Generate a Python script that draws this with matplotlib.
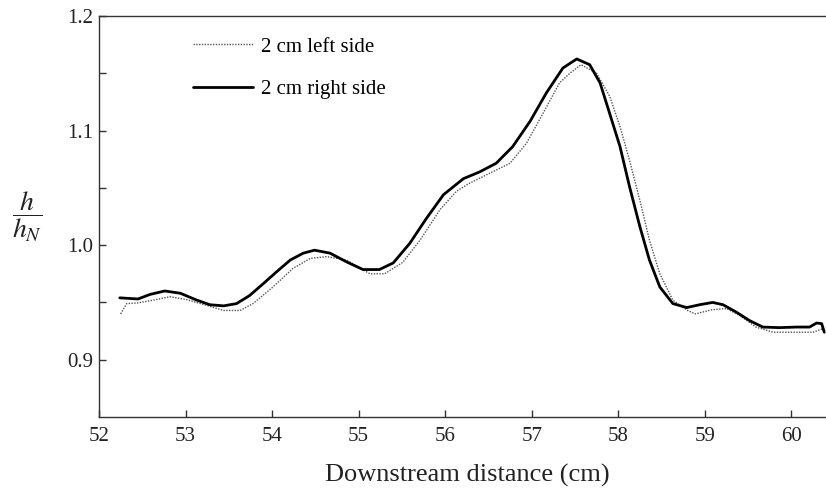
import matplotlib
matplotlib.use("Agg")
import matplotlib.pyplot as plt

# Data
right_x = [52.24, 52.45, 52.59, 52.76, 52.94, 53.13, 53.28, 53.44, 53.59, 53.74, 53.90,
           54.05, 54.21, 54.36, 54.49, 54.67, 54.86, 55.05, 55.24, 55.40, 55.59, 55.78,
           55.98, 56.21, 56.40, 56.59, 56.78, 56.98, 57.17, 57.36, 57.52, 57.67, 57.79,
           57.90, 58.02, 58.13, 58.25, 58.36, 58.48, 58.63, 58.79, 58.94, 59.09, 59.21,
           59.36, 59.52, 59.67, 59.86, 60.06, 60.21, 60.29, 60.35, 60.38]
right_y = [0.954, 0.953, 0.957, 0.960, 0.958, 0.952, 0.948, 0.947, 0.949, 0.956, 0.9665,
           0.9766, 0.987, 0.993, 0.9956, 0.993, 0.9854, 0.9787, 0.9787, 0.9845, 1.0015, 1.023,
           1.044, 1.058, 1.064, 1.0715, 1.086, 1.108, 1.133, 1.1546, 1.1625, 1.1575, 1.1415,
           1.115, 1.086, 1.051, 1.016, 0.987, 0.9635, 0.949, 0.9455, 0.948, 0.950, 0.948,
           0.9417, 0.934, 0.9285, 0.928, 0.9285, 0.9285, 0.932, 0.9315, 0.924]

left_x = [52.25, 52.32, 52.44, 52.63, 52.82, 53.01, 53.24, 53.44, 53.63, 53.78, 54.01,
          54.24, 54.44, 54.63, 54.86, 55.13, 55.30, 55.51, 55.71, 55.94, 56.13, 56.28,
          56.52, 56.75, 56.94, 57.13, 57.32, 57.44, 57.57, 57.75, 57.90, 58.02, 58.13,
          58.25, 58.36, 58.48, 58.63, 58.80, 58.89, 59.09, 59.25, 59.40, 59.59, 59.79,
          60.02, 60.25, 60.36]
left_y = [0.940, 0.949, 0.9495, 0.952, 0.955, 0.9525, 0.9475, 0.943, 0.943, 0.949, 0.9635,
          0.9796, 0.9884, 0.990, 0.987, 0.975, 0.975, 0.985, 1.0044, 1.031, 1.047, 1.054,
          1.063, 1.0715, 1.089, 1.115, 1.1415, 1.150, 1.1575, 1.150, 1.130, 1.1035, 1.074,
          1.039, 1.0044, 0.975, 0.952, 0.943, 0.940, 0.9437, 0.9446, 0.9388, 0.9285, 0.924,
          0.924, 0.924, 0.927]

x_ticks = [52, 53, 54, 55, 56, 57, 58, 59, 60]
y_ticks = [0.9, 1.0, 1.1, 1.2]
y_minor = [0.95, 1.05, 1.15]
labels = ["2 cm left side", "2 cm right side"]

plt.rcParams['font.family'] = ['Liberation Serif', 'DejaVu Serif']
plt.rcParams['mathtext.fontset'] = 'stix'

fig = plt.figure(figsize=(8.26, 4.88), dpi=100)
ax = fig.add_axes([99/826, 1-417/488, 1-99/826, (417-16)/488])

ax.plot(left_x, left_y, linestyle=(0, (1, 1)), color='#555555', lw=1.0, label=labels[0])
ax.plot(right_x, right_y, color='black', lw=2.0, label=labels[1],
        solid_joinstyle='round', solid_capstyle='round')

ax.set_xlim(52, 60.4)
ax.set_ylim(0.85, 1.2)
ax.set_xticks(x_ticks)
ax.set_xticklabels([str(v) for v in x_ticks])
ax.set_yticks(y_ticks)
ax.set_yticklabels([f"{v:.1f}" for v in y_ticks])
ax.set_yticks(y_minor, minor=True)

ax.tick_params(axis='both', which='both', direction='in', length=5, width=1,
               labelsize=15, color='#333333', labelcolor='#222222')
ax.tick_params(axis='x', pad=7)
ax.tick_params(axis='y', pad=4)

for s in ['left', 'bottom', 'top']:
    ax.spines[s].set_linewidth(1.0)
    ax.spines[s].set_color('#333333')
ax.spines['right'].set_visible(False)

ax.set_xlabel("Downstream distance (cm)", fontsize=19, color='#222222')
ax.xaxis.set_label_coords(0.507, -0.117)
ax.xaxis.label.set_va('top')
fig.text(27/826, 1-217/488, r"$\dfrac{h}{h_N}$", fontsize=20, ha='center', va='center',
         color='#222222')

leg = ax.legend(loc='upper left', bbox_to_anchor=((193-99)/727, (417-37)/401),
                frameon=False, fontsize=15, handlelength=2.9, handletextpad=0.35,
                labelspacing=1.1, borderpad=0, borderaxespad=0)

fig.savefig("out.png", dpi=100)
